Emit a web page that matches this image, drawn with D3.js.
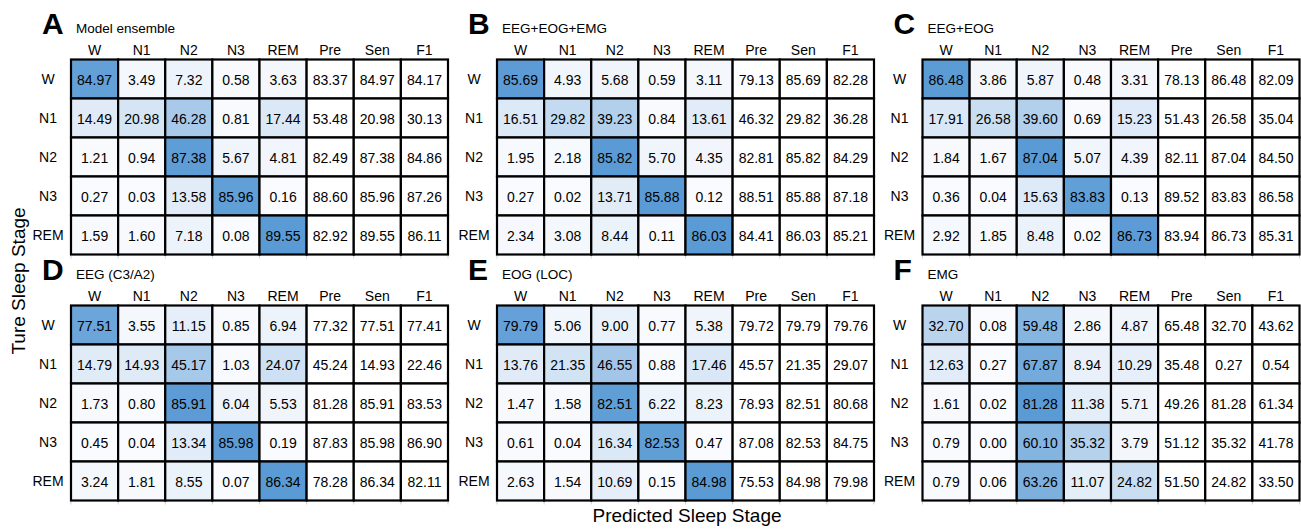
<!DOCTYPE html>
<html>
<head>
<meta charset="utf-8">
<script src="https://cdn.jsdelivr.net/npm/d3@7"></script>
<style>
  body { margin: 0; background: #fff; }
  text { font-family: "Liberation Sans", Arial, sans-serif; fill: #000; }
</style>
</head>
<body>
<script>
const width = 1301,
      height = 529;

// row / column labels
const stages = ["W", "N1", "N2", "N3", "REM"];
const columns = ["W", "N1", "N2", "N3", "REM", "Pre", "Sen", "F1"];

const letters = ["A", "B", "C", "D", "E", "F"];
const titles = ["Model ensemble", "EEG+EOG+EMG", "EEG+EOG", "EEG (C3/A2)", "EOG (LOC)", "EMG"];

// each row: 5 confusion values, then Pre, Sen, F1
const ensemble = [
  [84.97, 3.49, 7.32, 0.58, 3.63, 83.37, 84.97, 84.17],
  [14.49, 20.98, 46.28, 0.81, 17.44, 53.48, 20.98, 30.13],
  [1.21, 0.94, 87.38, 5.67, 4.81, 82.49, 87.38, 84.86],
  [0.27, 0.03, 13.58, 85.96, 0.16, 88.60, 85.96, 87.26],
  [1.59, 1.60, 7.18, 0.08, 89.55, 82.92, 89.55, 86.11]
];
const eegEogEmg = [
  [85.69, 4.93, 5.68, 0.59, 3.11, 79.13, 85.69, 82.28],
  [16.51, 29.82, 39.23, 0.84, 13.61, 46.32, 29.82, 36.28],
  [1.95, 2.18, 85.82, 5.70, 4.35, 82.81, 85.82, 84.29],
  [0.27, 0.02, 13.71, 85.88, 0.12, 88.51, 85.88, 87.18],
  [2.34, 3.08, 8.44, 0.11, 86.03, 84.41, 86.03, 85.21]
];
const eegEog = [
  [86.48, 3.86, 5.87, 0.48, 3.31, 78.13, 86.48, 82.09],
  [17.91, 26.58, 39.60, 0.69, 15.23, 51.43, 26.58, 35.04],
  [1.84, 1.67, 87.04, 5.07, 4.39, 82.11, 87.04, 84.50],
  [0.36, 0.04, 15.63, 83.83, 0.13, 89.52, 83.83, 86.58],
  [2.92, 1.85, 8.48, 0.02, 86.73, 83.94, 86.73, 85.31]
];
const eeg = [
  [77.51, 3.55, 11.15, 0.85, 6.94, 77.32, 77.51, 77.41],
  [14.79, 14.93, 45.17, 1.03, 24.07, 45.24, 14.93, 22.46],
  [1.73, 0.80, 85.91, 6.04, 5.53, 81.28, 85.91, 83.53],
  [0.45, 0.04, 13.34, 85.98, 0.19, 87.83, 85.98, 86.90],
  [3.24, 1.81, 8.55, 0.07, 86.34, 78.28, 86.34, 82.11]
];
const eog = [
  [79.79, 5.06, 9.00, 0.77, 5.38, 79.72, 79.79, 79.76],
  [13.76, 21.35, 46.55, 0.88, 17.46, 45.57, 21.35, 29.07],
  [1.47, 1.58, 82.51, 6.22, 8.23, 78.93, 82.51, 80.68],
  [0.61, 0.04, 16.34, 82.53, 0.47, 87.08, 82.53, 84.75],
  [2.63, 1.54, 10.69, 0.15, 84.98, 75.53, 84.98, 79.98]
];
const emg = [
  [32.70, 0.08, 59.48, 2.86, 4.87, 65.48, 32.70, 43.62],
  [12.63, 0.27, 67.87, 8.94, 10.29, 35.48, 0.27, 0.54],
  [1.61, 0.02, 81.28, 11.38, 5.71, 49.26, 81.28, 61.34],
  [0.79, 0.00, 60.10, 35.32, 3.79, 51.12, 35.32, 41.78],
  [0.79, 0.06, 63.26, 11.07, 24.82, 51.50, 24.82, 33.50]
];
const panels = [ensemble, eegEogEmg, eegEog, eeg, eog, emg];

const svg = d3.select("body")
    .append("svg")
    .attr("width", width)
    .attr("height", height);

const tableLefts = [71, 497, 922.5],
      tableTops = [59.5, 305.5],
      tableW = 377,
      tableH = 195;

panels.forEach((rows, i) => {
  const left = tableLefts[i % 3],
        top = tableTops[Math.floor(i / 3)];

  const x = d3.scaleBand().domain(columns).range([left, left + tableW]);
  const y = d3.scaleBand().domain(stages).range([top, top + tableH]);

  // colour scale over the confusion part of this panel
  const vals = rows.flatMap(r => r.slice(0, 5));
  const color = d3.scaleLinear()
      .domain([d3.min(vals), d3.max(vals)])
      .range(["#fafbfe", "#5b9bd5"])
      .interpolate(d3.interpolateRgb);

  const g = svg.append("g").attr("class", "panel");

  g.append("text")
      .attr("x", left - 29)
      .attr("y", top - 26)
      .attr("font-size", 30)
      .attr("font-weight", "bold")
      .text(letters[i]);

  g.append("text")
      .attr("x", left + 5)
      .attr("y", top - 27)
      .attr("font-size", 13.5)
      .text(titles[i]);

  g.selectAll("text.col")
    .data(columns)
    .enter().append("text")
      .attr("class", "col")
      .attr("x", d => x(d) + x.bandwidth() / 2)
      .attr("y", top - 5)
      .attr("text-anchor", "middle")
      .attr("font-size", 14)
      .text(d => d);

  g.selectAll("text.row")
    .data(stages)
    .enter().append("text")
      .attr("class", "row")
      .attr("x", left - 23)
      .attr("y", d => y(d) + y.bandwidth() / 2 + 5)
      .attr("text-anchor", "middle")
      .attr("font-size", 14)
      .text(d => d);

  // faint ticks under the table
  g.selectAll("line.tick")
    .data(d3.range(columns.length + 1))
    .enter().append("line")
      .attr("x1", k => left + k * x.bandwidth())
      .attr("x2", k => left + k * x.bandwidth())
      .attr("y1", top + tableH)
      .attr("y2", top + tableH + 4)
      .attr("stroke", "#d0d0d0")
      .attr("stroke-width", 1);

  const cells = rows.flatMap((r, ri) => r.map((v, ci) => ({ row: stages[ri], col: columns[ci], ci: ci, v: v })));

  g.selectAll("rect.cell")
    .data(cells)
    .enter().append("rect")
      .attr("class", "cell")
      .attr("x", d => x(d.col))
      .attr("y", d => y(d.row))
      .attr("width", x.bandwidth())
      .attr("height", y.bandwidth())
      .attr("fill", d => d.ci < 5 ? color(d.v) : "#fff")
      .attr("stroke", "#000")
      .attr("stroke-width", 2.2);

  g.selectAll("text.val")
    .data(cells)
    .enter().append("text")
      .attr("class", "val")
      .attr("x", d => x(d.col) + x.bandwidth() / 2)
      .attr("y", d => y(d.row) + y.bandwidth() / 2 + 5.5)
      .attr("text-anchor", "middle")
      .attr("font-size", 14)
      .text(d => d.v.toFixed(2));
});

svg.append("text")
    .attr("x", 687)
    .attr("y", 522)
    .attr("text-anchor", "middle")
    .attr("font-size", 19)
    .text("Predicted Sleep Stage");

svg.append("text")
    .attr("transform", "translate(25,281) rotate(-90)")
    .attr("text-anchor", "middle")
    .attr("font-size", 19)
    .text("Ture Sleep Stage");
</script>
</body>
</html>
